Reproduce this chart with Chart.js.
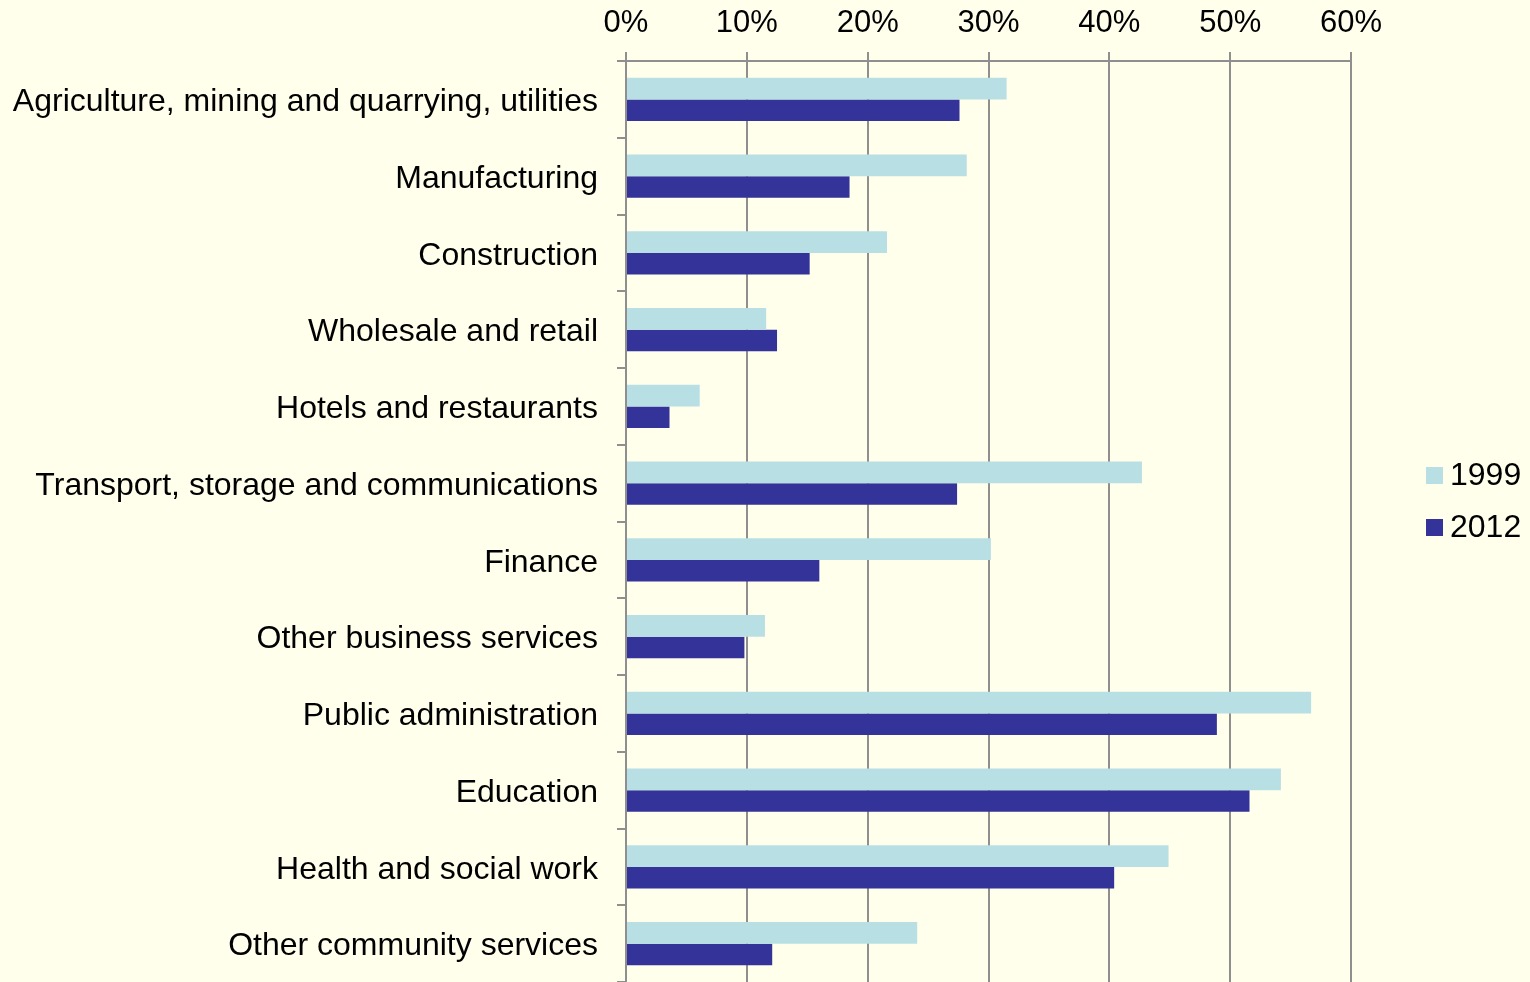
<!DOCTYPE html>
<html>
<head>
<meta charset="utf-8">
<script src="https://cdn.jsdelivr.net/npm/chart.js@4/dist/chart.umd.min.js"></script>
<style>
  html, body { margin: 0; padding: 0; background: #FFFFEC; }
  canvas { display: block; }
</style>
</head>
<body>
<canvas id="sectorChart" width="1530" height="982"></canvas>
<script>
const categories = [
    'Agriculture, mining and quarrying, utilities',
    'Manufacturing',
    'Construction',
    'Wholesale and retail',
    'Hotels and restaurants',
    'Transport, storage and communications',
    'Finance',
    'Other business services',
    'Public administration',
    'Education',
    'Health and social work',
    'Other community services',
];
const values1999 = [31.5, 28.2, 21.6, 11.6, 6.1, 42.7, 30.2, 11.5, 56.7, 54.2, 44.9, 24.1];
const values2012 = [27.6, 18.5, 15.2, 12.5, 3.6, 27.4, 16.0, 9.8, 48.9, 51.6, 40.4, 12.1];
const xTicks = [0, 10, 20, 30, 40, 50, 60];

const gridColor = '#8f8f8f';
const fontFamily = '"Liberation Sans", Arial, sans-serif';

// legend drawn by hand so it sits where the original puts it
const sideLegend = {
    id: 'sideLegend',
    afterDraw(chart) {
        const ctx = chart.ctx;
        ctx.save();
        ctx.font = '32px ' + fontFamily;
        ctx.textBaseline = 'middle';
        chart.data.datasets.forEach(function (ds, i) {
            const y = 475 + i * 52;
            ctx.fillStyle = ds.backgroundColor;
            ctx.fillRect(1426, y - 8, 17, 17);
            ctx.fillStyle = '#000';
            ctx.fillText(ds.label, 1450, y + 1);
        });
        ctx.restore();
    },
};

document.addEventListener('DOMContentLoaded', function () {
    const ctx = document.getElementById('sectorChart').getContext('2d');
    new Chart(ctx, {
        type: 'bar',
        data: {
            labels: categories,
            datasets: [{
                label: '1999',
                data: values1999,
                backgroundColor: '#B8E0E4',
                categoryPercentage: 0.566,
                barPercentage: 1,
            }, {
                label: '2012',
                data: values2012,
                backgroundColor: '#333399',
                categoryPercentage: 0.566,
                barPercentage: 1,
            }],
        },
        options: {
            indexAxis: 'y',
            responsive: false,
            animation: false,
            layout: {
                padding: { left: 0, right: 179, top: 0, bottom: 0 },
            },
            plugins: {
                legend: { display: false },
                tooltip: { enabled: false },
            },
            scales: {
                x: {
                    position: 'top',
                    min: 0,
                    max: 60,
                    afterBuildTicks(scale) {
                        scale.ticks = xTicks.map(function (v) { return { value: v }; });
                    },
                    afterFit(scale) { scale.height = 61; },
                    grid: {
                        color: gridColor,
                        lineWidth: 2,
                        tickLength: 9,
                    },
                    border: { color: gridColor, width: 2 },
                    ticks: {
                        color: '#000',
                        padding: 10,
                        font: { family: fontFamily, size: 31 },
                        callback: function (v) { return v + '%'; },
                    },
                },
                y: {
                    afterFit(scale) {
                        scale.width = 626;
                        scale.paddingTop = 0;
                        scale.paddingBottom = 0;
                    },
                    grid: {
                        offset: true,
                        drawOnChartArea: false,
                        color: gridColor,
                        lineWidth: 2,
                        tickLength: 9,
                    },
                    border: { color: gridColor, width: 2 },
                    ticks: {
                        color: '#000',
                        padding: 19,
                        labelOffset: 3,
                        font: { family: fontFamily, size: 32 },
                    },
                },
            },
        },
        plugins: [sideLegend],
    });
});
</script>
</body>
</html>
